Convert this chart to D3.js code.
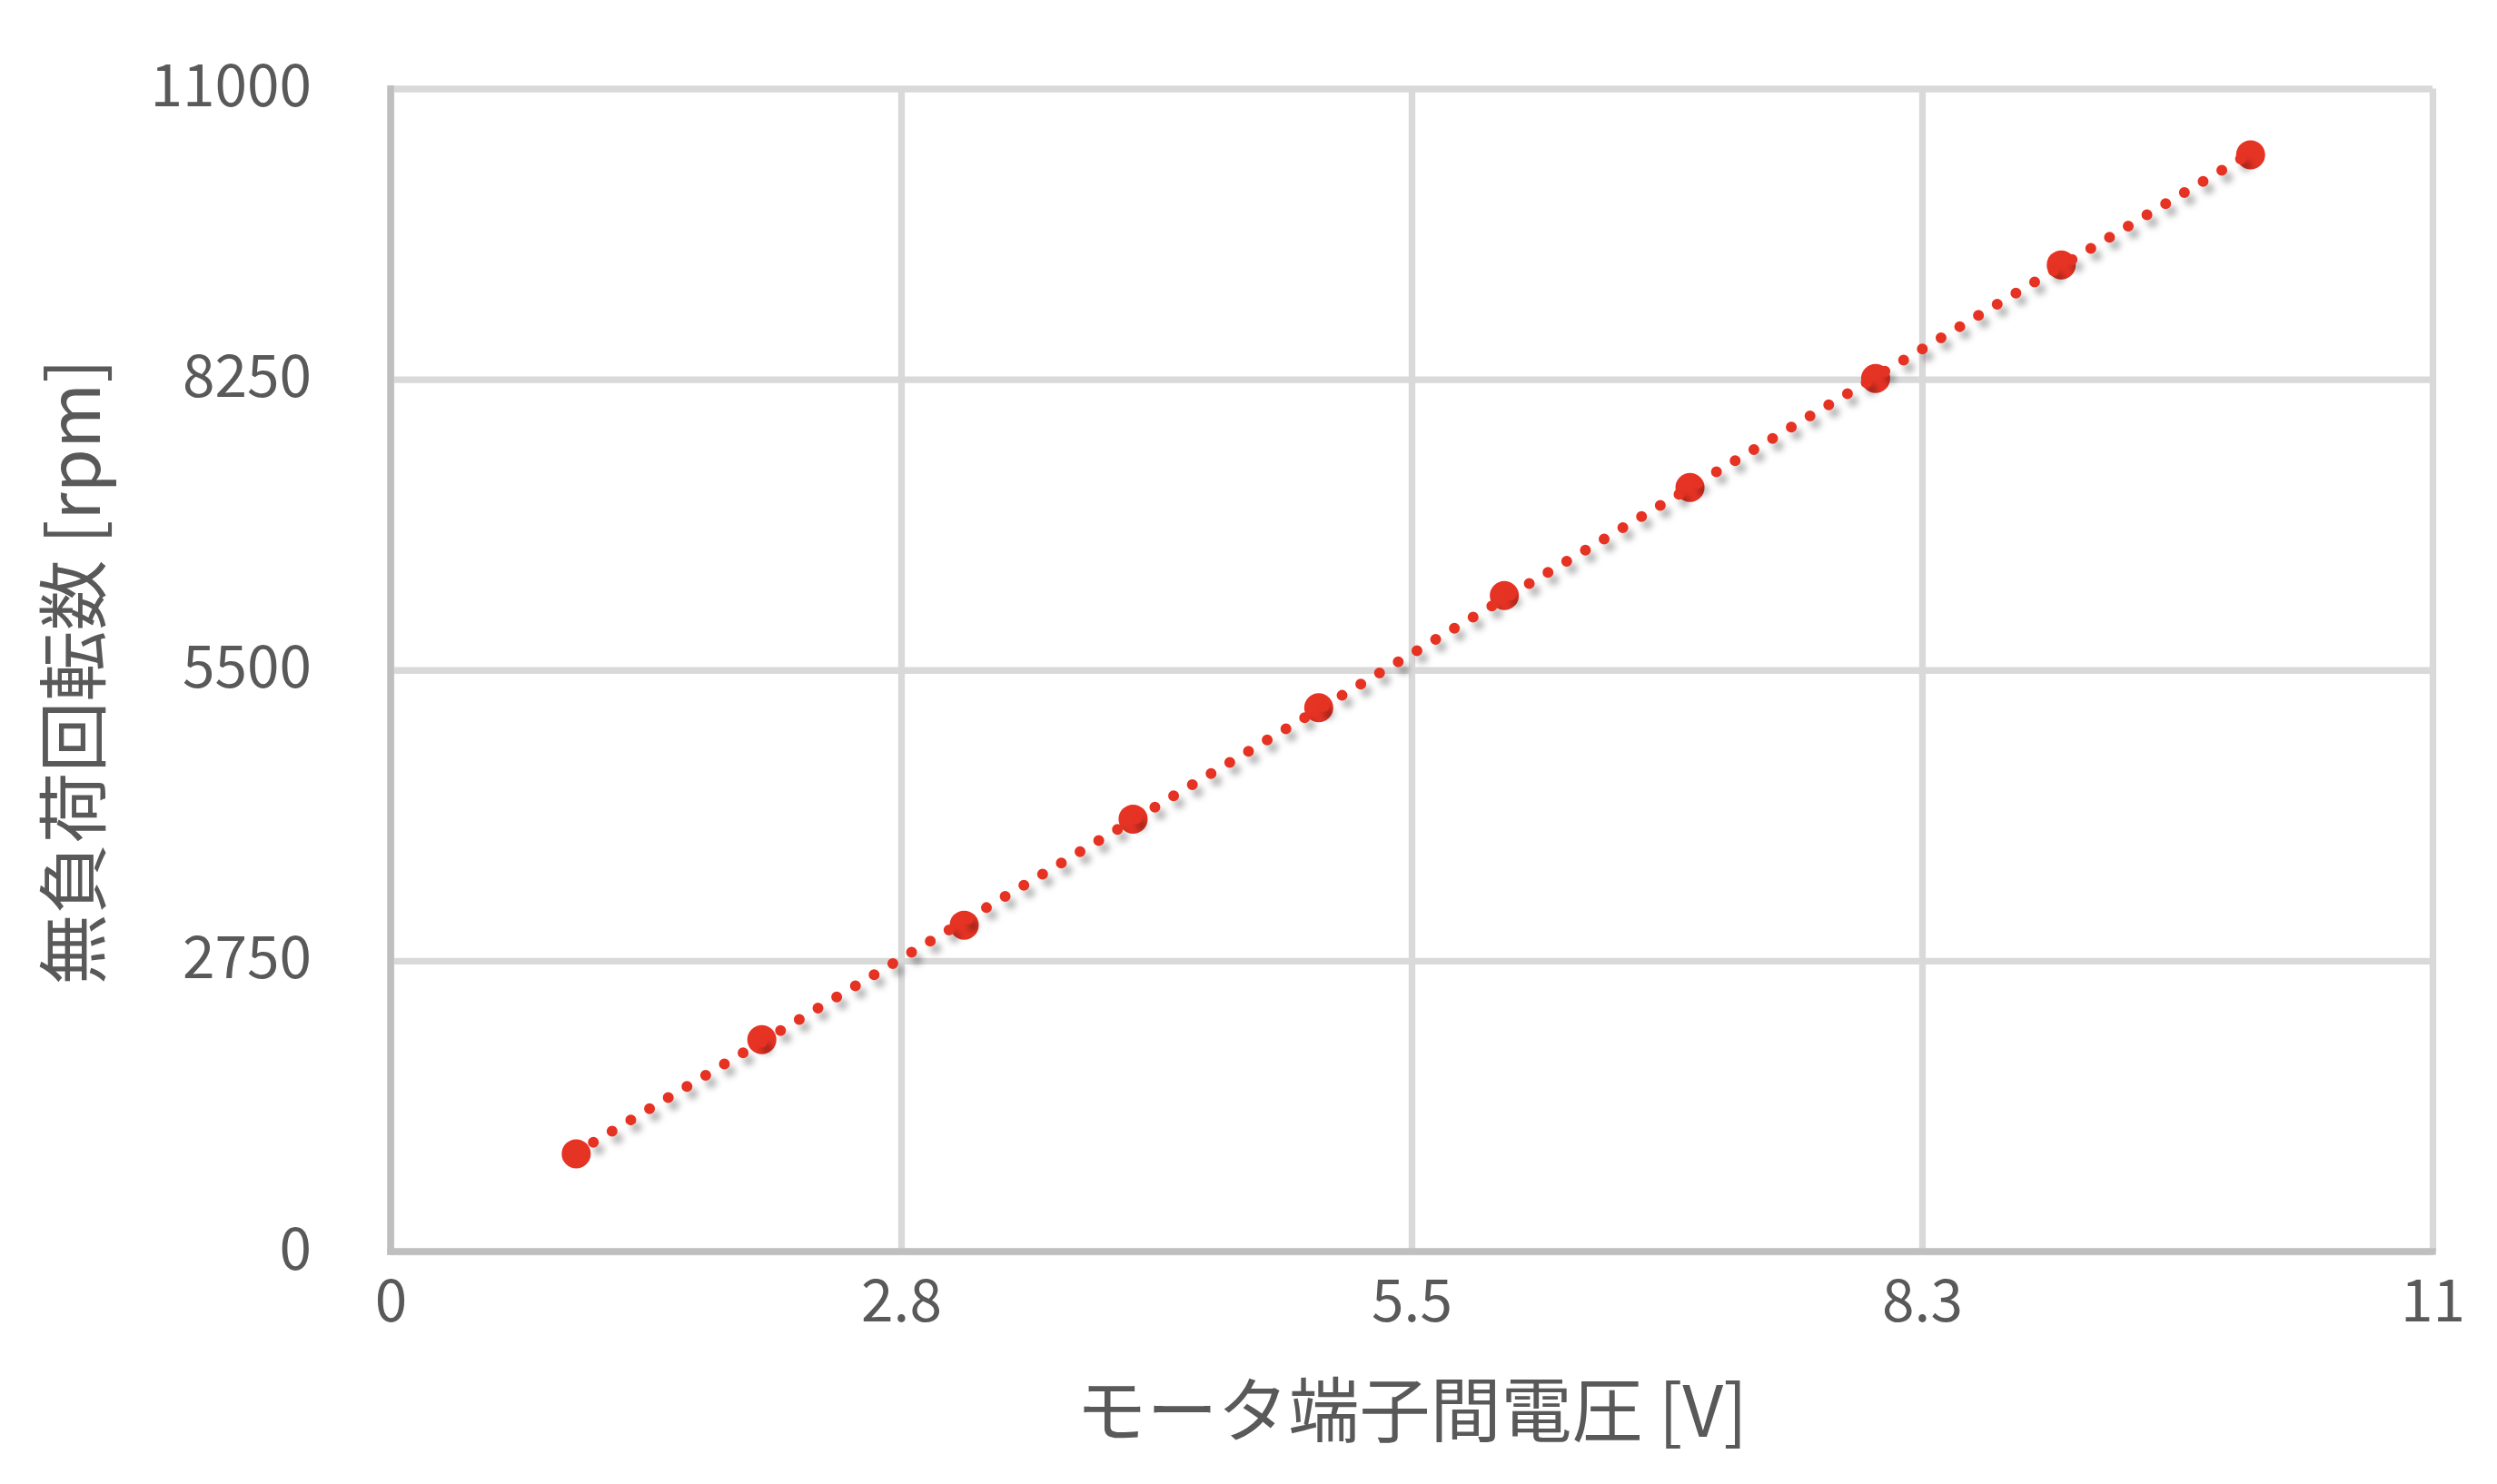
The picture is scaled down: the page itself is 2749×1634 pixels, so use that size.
<!DOCTYPE html>
<html>
<head>
<meta charset="utf-8">
<script src="https://cdn.jsdelivr.net/npm/d3@7"></script>
<style>
html,body{margin:0;padding:0;background:#fff;}
svg{display:block;}
text{font-family:"Noto Sans CJK JP","Noto Sans",sans-serif;fill:#595959;}
</style>
</head>
<body>
<svg id="chart" width="2749" height="1634"></svg>
<script>
// ---- data ----
const voltage = [1.0, 2.0, 3.09, 4.0, 5.0, 6.0, 7.0, 8.0, 9.0, 10.02];
const rpm = [924, 2004, 3087, 4090, 5144, 6204, 7227, 8258, 9332, 10373];
const xTicks = [0, 2.75, 5.5, 8.25, 11];
const xTickLabels = ["0", "2.8", "5.5", "8.3", "11"];
const yTicks = [0, 2750, 5500, 8250, 11000];
const yTickLabels = ["0", "2750", "5500", "8250", "11000"];
const xTitle = "モータ端子間電圧 [V]";
const yTitle = "無負荷回転数 [rpm]";

// ---- layout ----
const W = 2749, H = 1634;
const L = 430, R = 2678, T = 97.5, B = 1378;
const red = "#E53324";

const svg = d3.select("#chart");
const x = d3.scaleLinear().domain([0, 11]).range([L, R]);
const y = d3.scaleLinear().domain([0, 11000]).range([B, T]);

const defs = svg.append("defs");
const f = defs.append("filter").attr("id", "shadow")
  .attr("x", "-20%").attr("y", "-20%").attr("width", "140%").attr("height", "140%");
f.append("feGaussianBlur").attr("in", "SourceAlpha").attr("stdDeviation", 3.5).attr("result", "b");
f.append("feOffset").attr("in", "b").attr("dx", 6).attr("dy", 8).attr("result", "o");
f.append("feFlood").attr("flood-color", "#000").attr("flood-opacity", 0.3).attr("result", "c");
f.append("feComposite").attr("in", "c").attr("in2", "o").attr("operator", "in").attr("result", "s");
const fm = f.append("feMerge");
fm.append("feMergeNode").attr("in", "s");
fm.append("feMergeNode").attr("in", "SourceGraphic");

// gridlines
const gx = svg.append("g").attr("transform", `translate(0,${B})`)
  .call(d3.axisBottom(x).tickValues(xTicks).tickSize(-(B - T)).tickFormat(""));
gx.select(".domain").remove();
gx.selectAll("line").attr("stroke", "#d9d9d9").attr("stroke-width", 7.3);

const gy = svg.append("g").attr("transform", `translate(${L},0)`)
  .call(d3.axisLeft(y).tickValues(yTicks).tickSize(-(R - L)).tickFormat(""));
gy.select(".domain").remove();
gy.selectAll("line").attr("stroke", "#d9d9d9").attr("stroke-width", 7.3);

// axis lines
svg.append("line").attr("x1", L).attr("x2", L).attr("y1", T - 3.6).attr("y2", B + 3.7)
  .attr("stroke", "#bfbfbf").attr("stroke-width", 7.5);
svg.append("line").attr("x1", L - 3.7).attr("x2", R + 3.7).attr("y1", B).attr("y2", B)
  .attr("stroke", "#bfbfbf").attr("stroke-width", 7.5);

// tick labels
const xl = svg.append("g").attr("transform", `translate(0,${B})`)
  .call(d3.axisBottom(x).tickValues(xTicks).tickSize(0).tickPadding(0)
    .tickFormat((d, i) => xTickLabels[i]));
xl.select(".domain").remove();
xl.selectAll("text").attr("y", 49).attr("dy", null)
  .attr("dominant-baseline", "central")
  .style("font-size", "64px").style("font-family", '"Noto Sans CJK JP",sans-serif').attr("fill", "#595959");

const yl = svg.append("g").attr("transform", `translate(${L},0)`)
  .call(d3.axisLeft(y).tickValues(yTicks).tickSize(0).tickPadding(0)
    .tickFormat((d, i) => yTickLabels[i]));
yl.select(".domain").remove();
yl.selectAll("text").attr("x", -87).attr("dy", -9)
  .attr("dominant-baseline", "central")
  .style("font-size", "64px").style("font-family", '"Noto Sans CJK JP",sans-serif').attr("fill", "#595959");

// axis titles
svg.append("text").attr("x", (L + R) / 2).attr("y", 1548)
  .attr("text-anchor", "middle").attr("dominant-baseline", "central")
  .style("font-size", "78px").text(xTitle);
svg.append("text").attr("transform", `translate(76,740) rotate(-90)`)
  .attr("text-anchor", "middle").attr("dominant-baseline", "central")
  .style("font-size", "78px").text(yTitle);

// markers
const pts = voltage.map((v, i) => [v, rpm[i]]);
svg.append("g").selectAll("circle").data(pts).join("circle")
  .attr("cx", d => x(d[0])).attr("cy", d => y(d[1])).attr("r", 16)
  .attr("fill", red);

// linear trendline (least squares)
const mx = d3.mean(voltage), my = d3.mean(rpm);
const slope = d3.sum(pts, d => (d[0] - mx) * (d[1] - my)) / d3.sum(pts, d => (d[0] - mx) ** 2);
const icpt = my - slope * mx;
const xMin = d3.min(voltage), xMax = d3.max(voltage);
const trend = [[xMin, icpt + slope * xMin], [xMax, icpt + slope * xMax]];
const lineGen = d3.line().x(d => x(d[0])).y(d => y(d[1]));
svg.append("path")
  .attr("d", lineGen(trend))
  .attr("fill", "none").attr("stroke", red).attr("stroke-width", 12)
  .attr("stroke-linecap", "round").attr("stroke-dasharray", "0 24").attr("stroke-dashoffset", 2)
  .attr("filter", "url(#shadow)");
</script>
</body>
</html>
